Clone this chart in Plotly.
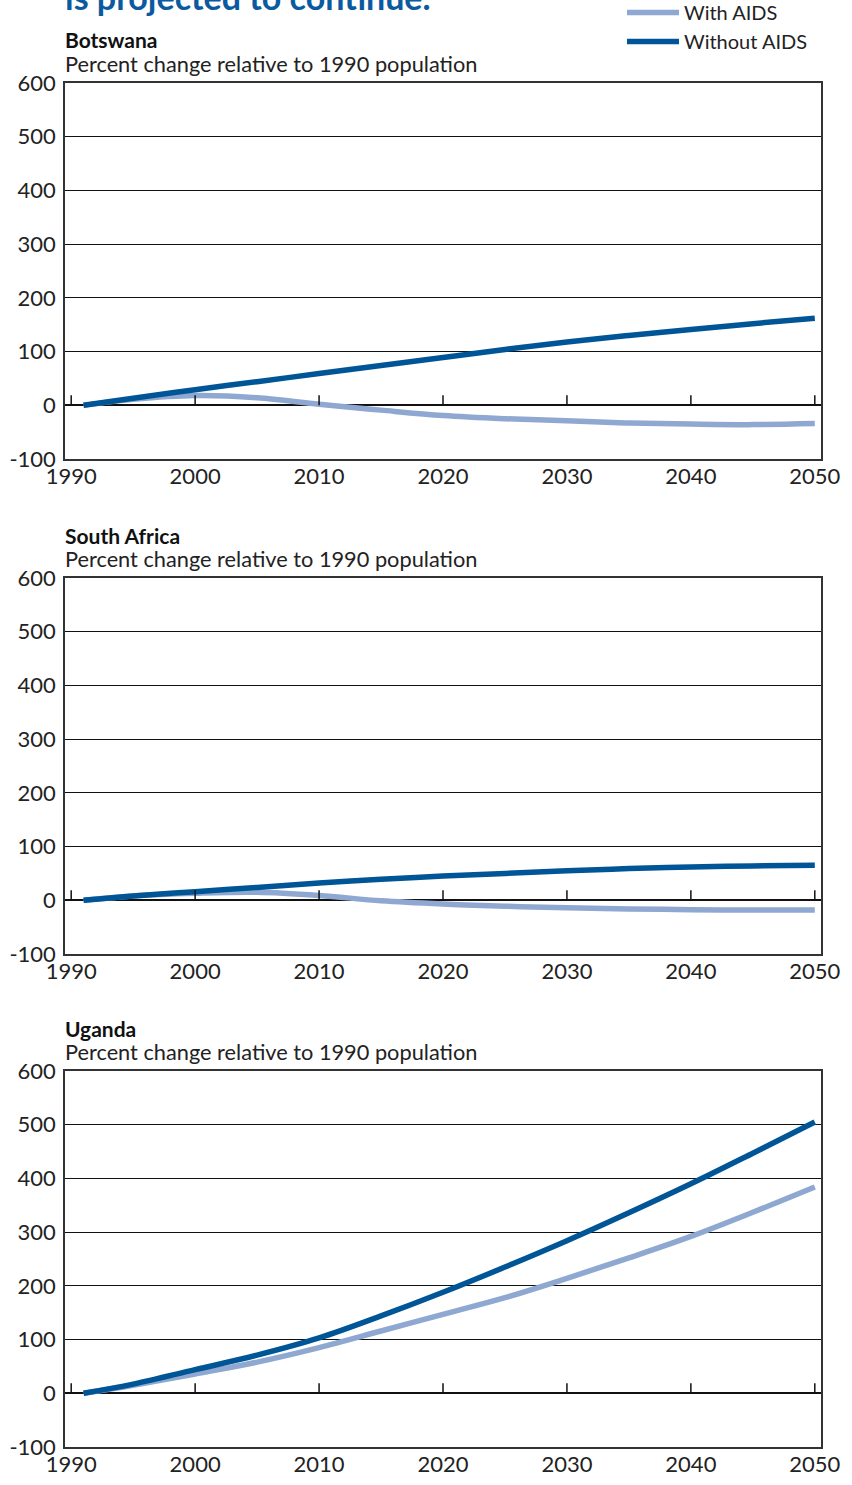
import plotly.graph_objects as go

W, H = 852, 1485

years = [1991, 1995, 2000, 2005, 2010, 2015, 2020, 2025, 2030, 2035, 2040, 2045, 2050]

botswana_with = [0, 11, 18, 14, 2, -9, -19, -25, -29, -33, -35, -36, -34]
botswana_without = [0, 13, 29, 44, 59, 74, 89, 104, 118, 130, 141, 152, 162]
southafrica_with = [0, 8, 13, 15, 9, -1, -7, -11, -14, -16, -17.5, -18, -18]
southafrica_without = [0, 8, 16, 24, 32, 39, 45, 50, 55, 59, 62, 64, 65]
uganda_with = [0, 15, 36, 58, 85, 116, 147, 178, 214, 252, 292, 337, 384]
uganda_without = [0, 17, 44, 71, 103, 144, 188, 235, 284, 336, 390, 447, 505]

countries = ["Botswana", "South Africa", "Uganda"]
series_with = [botswana_with, southafrica_with, uganda_with]
series_without = [botswana_without, southafrica_without, uganda_without]

x_ticks = [1990, 2000, 2010, 2020, 2030, 2040, 2050]
y_ticks = [-100, 0, 100, 200, 300, 400, 500, 600]
y_ticktext = ["-100", "0", "100", "200", "300", "400", "500", "600"]

subtitle = "Percent change relative to 1990 population"
headline = "is projected to continue."

COL_WITH = "#8ea8d1"
COL_WITHOUT = "#005596"
FONT = "Lato"

# panel pixel geometry (top, bottom) of plot areas
panels_px = [(83, 459), (578, 954), (1071, 1447)]
x_px = (65, 821)

fig = go.Figure()

def py(p):
    return 1 - p / H

for i, (c, sw, so) in enumerate(zip(countries, series_with, series_without)):
    n = "" if i == 0 else str(i + 1)
    fig.add_trace(go.Scatter(
        x=years, y=sw, name="With AIDS", mode="lines",
        line=dict(color=COL_WITH, width=5.5, shape="spline", smoothing=1.0),
        xaxis="x" + n, yaxis="y" + n, showlegend=(i == 0), legendrank=1))
    fig.add_trace(go.Scatter(
        x=years, y=so, name="Without AIDS", mode="lines",
        line=dict(color=COL_WITHOUT, width=5.5, shape="spline", smoothing=1.0),
        xaxis="x" + n, yaxis="y" + n, showlegend=(i == 0), legendrank=2))

    top, bot = panels_px[i]
    ax_common = dict(showline=True, mirror=True, linecolor="#333333", linewidth=1.5,
                     automargin=False, fixedrange=True)
    fig.update_layout(**{
        "xaxis" + n: dict(
            domain=[x_px[0] / W, x_px[1] / W], range=[1989.5, 2050.5],
            tickvals=x_ticks, ticks="", showgrid=False, zeroline=False,
            ticklabelstandoff=-3,
            anchor="y" + n, tickfont=dict(family=FONT, size=22, color="#222"),
            **ax_common),
        "yaxis" + n: dict(
            domain=[py(bot), py(top)], range=[-100, 600],
            tickvals=y_ticks, ticktext=y_ticktext, ticks="",
            ticklabelstandoff=3,
            showgrid=True, gridcolor="#111111", gridwidth=1,
            zeroline=True, zerolinecolor="#111111", zerolinewidth=1.5,
            anchor="x" + n, tickfont=dict(family=FONT, size=22, color="#222"),
            **ax_common),
    })
    # small tick marks rising from the zero line
    for t in x_ticks:
        fig.add_shape(type="line", xref="x" + n, yref="y" + n,
                      ysizemode="pixel", yanchor=0, x0=t, x1=t, y0=0, y1=10,
                      line=dict(color="#111111", width=1.5))
    # panel title and subtitle
    fig.add_annotation(text="<b>" + c + "</b>", xref="paper", yref="paper",
                       x=x_px[0] / W, y=py(top - 43), xanchor="left", yanchor="middle",
                       xshift=-2, showarrow=False,
                       font=dict(family=FONT, size=21, color="#111"))
    fig.add_annotation(text=subtitle, xref="paper", yref="paper",
                       x=x_px[0] / W, y=py(top - 19), xanchor="left", yanchor="middle",
                       xshift=-2, showarrow=False,
                       font=dict(family=FONT, size=21.75, color="#222"))

fig.add_annotation(text="<b>" + headline + "</b>", xref="paper", yref="paper",
                   x=x_px[0] / W, y=1, xanchor="left", yanchor="bottom", yshift=-19,
                   xshift=-2, showarrow=False,
                   font=dict(family=FONT, size=34, color="#0b5aa0"))

fig.update_layout(
    width=W, height=H, margin=dict(l=0, r=0, t=0, b=0, autoexpand=False),
    paper_bgcolor="white", plot_bgcolor="white",
    showlegend=True,
    legend=dict(x=622 / W, y=1 + 7 / H, xanchor="left", yanchor="top",
                font=dict(family=FONT, size=20, color="#222"),
                bgcolor="rgba(0,0,0,0)", tracegroupgap=0, itemwidth=52),
)

fig.write_html("out.html", config={"displayModeBar": False},
               post_script="document.body.style.margin='0';document.body.style.padding='0';")
